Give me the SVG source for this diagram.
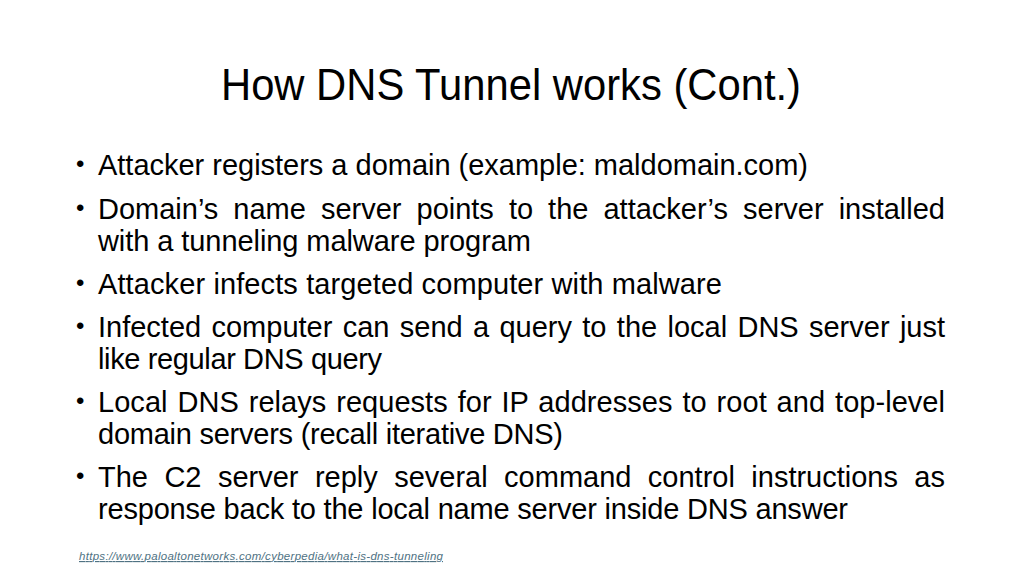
<svg xmlns="http://www.w3.org/2000/svg" width="1024" height="576" viewBox="0 0 1024 576">
  <style>
    .title { font-family: "Liberation Sans", Arial, sans-serif; font-size: 45px; fill: #000; }
    .body { font-family: "Liberation Sans", Arial, sans-serif; font-size: 29px; fill: #000; }
    .bullet { font-family: "Liberation Sans", Arial, sans-serif; font-size: 24px; fill: #000; }
    .link { font-family: "Liberation Sans", Arial, sans-serif; font-size: 11.5px; font-style: italic; fill: #4f7283; text-decoration: underline; }
  </style>
  <rect width="1024" height="576" fill="#ffffff"/>
  <g id="title">
    <text class="title" x="221" y="100" textLength="580" lengthAdjust="spacingAndGlyphs">How DNS Tunnel works (Cont.)</text>
  </g>
  <g id="bullet1">
    <text class="bullet" x="76" y="172">•</text>
    <text class="body" x="98" y="175" textLength="710" lengthAdjust="spacing">Attacker registers a domain (example: maldomain.com)</text>
  </g>
  <g id="bullet2">
    <text class="bullet" x="76" y="216">•</text>
    <text class="body" x="98" y="219" word-spacing="7" textLength="847" lengthAdjust="spacing">Domain’s name server points to the attacker’s server installed</text>
    <text class="body" x="98" y="251" textLength="433" lengthAdjust="spacing">with a tunneling malware program</text>
  </g>
  <g id="bullet3">
    <text class="bullet" x="76" y="291">•</text>
    <text class="body" x="98" y="294" textLength="624" lengthAdjust="spacing">Attacker infects targeted computer with malware</text>
  </g>
  <g id="bullet4">
    <text class="bullet" x="76" y="334">•</text>
    <text class="body" x="98" y="337" word-spacing="2.3" textLength="847" lengthAdjust="spacing">Infected computer can send a query to the local DNS server just</text>
    <text class="body" x="98" y="369" textLength="284" lengthAdjust="spacing">like regular DNS query</text>
  </g>
  <g id="bullet5">
    <text class="bullet" x="76" y="409">•</text>
    <text class="body" x="98" y="412" word-spacing="1.8" textLength="847" lengthAdjust="spacing">Local DNS relays requests for IP addresses to root and top-level</text>
    <text class="body" x="98" y="444" textLength="465" lengthAdjust="spacing">domain servers (recall iterative DNS)</text>
  </g>
  <g id="bullet6">
    <text class="bullet" x="76" y="484">•</text>
    <text class="body" x="98" y="487" word-spacing="8.4" textLength="847" lengthAdjust="spacing">The C2 server reply several command control instructions as</text>
    <text class="body" x="98" y="519" textLength="750" lengthAdjust="spacing">response back to the local name server inside DNS answer</text>
  </g>
  <g id="source">
    <text class="link" x="79" y="560" textLength="364" lengthAdjust="spacing">https://www.paloaltonetworks.com/cyberpedia/what-is-dns-tunneling</text>
  </g>
</svg>
